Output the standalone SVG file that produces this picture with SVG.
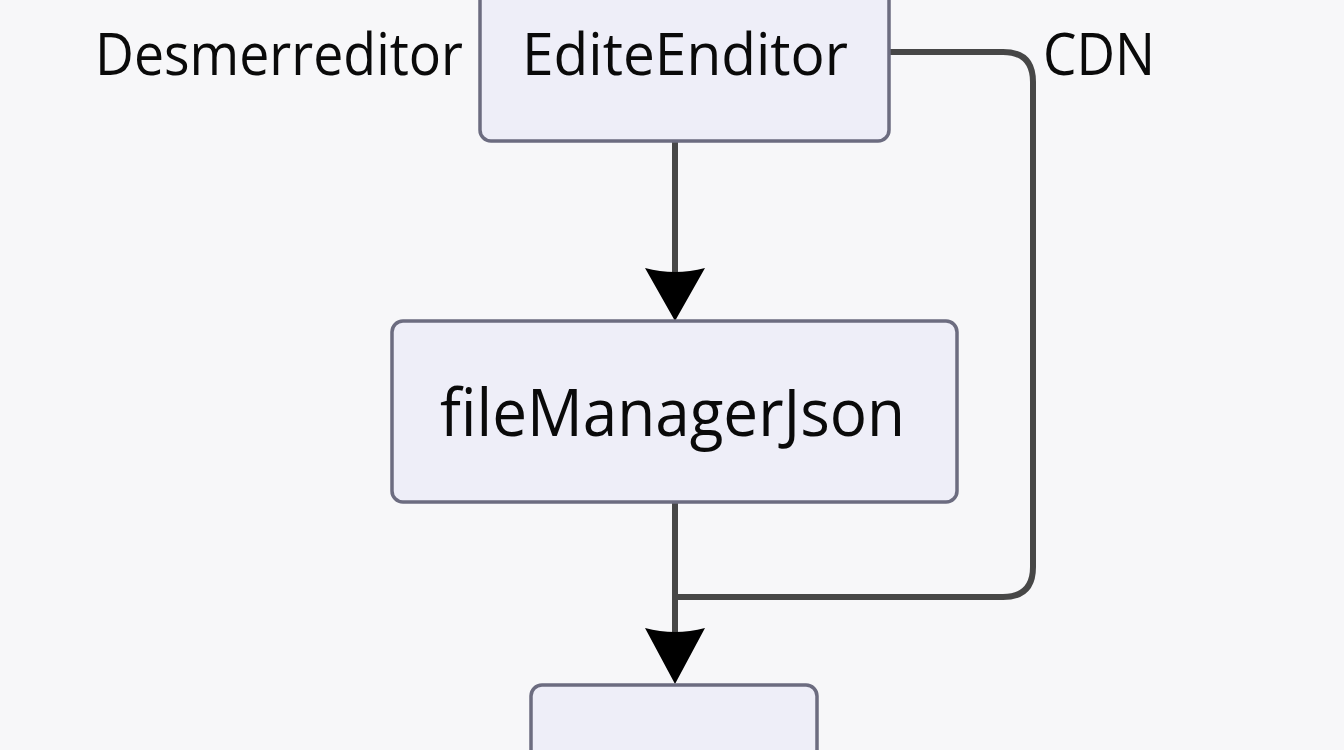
<svg xmlns="http://www.w3.org/2000/svg" width="1344" height="750" viewBox="0 0 1344 750">
<defs>
<style>
.node{fill:#eeeef8;stroke:#6c6c80;stroke-width:3.5}
.lbl{font-family:"Open Sans","Noto Sans","Liberation Sans",sans-serif;fill:#0a0a0a}
.wire{fill:none;stroke:#474747;stroke-width:6}
.head{fill:#000}
</style>
</defs>
<rect width="1344" height="750" fill="#f7f7f9"/>
<g id="connectors">
<path class="wire" d="M675,141 V275"/>
<path class="head" d="M645,268 Q675,276 705,268 L675,321 Z"/>
<path class="wire" d="M889,52 H1003 Q1033,52 1033,82 V567 Q1033,597 1003,597 H675"/>
<path class="wire" d="M675,502 V635"/>
<path class="head" d="M645,628 Q675,636 705,628 L675,684 Z"/>
</g>
<g id="label-desmerreditor">
<text class="lbl" x="95" y="75" font-size="58" textLength="368" lengthAdjust="spacingAndGlyphs">Desmerreditor</text>
</g>
<g id="node-editeenditor">
<rect class="node" x="480" y="-12" width="409" height="153" rx="11"/>
<text class="lbl" x="522" y="75" font-size="58" textLength="326" lengthAdjust="spacingAndGlyphs">EditeEnditor</text>
</g>
<g id="label-cdn">
<text class="lbl" x="1043" y="75" font-size="58" textLength="112" lengthAdjust="spacingAndGlyphs">CDN</text>
</g>
<g id="node-filemanagerjson">
<rect class="node" x="392" y="321" width="565" height="181" rx="11"/>
<text class="lbl" x="440" y="436" font-size="66" textLength="465" lengthAdjust="spacingAndGlyphs">fileManagerJson</text>
</g>
<g id="node-bottom">
<rect class="node" x="531" y="685" width="286" height="90" rx="11"/>
</g>
</svg>
